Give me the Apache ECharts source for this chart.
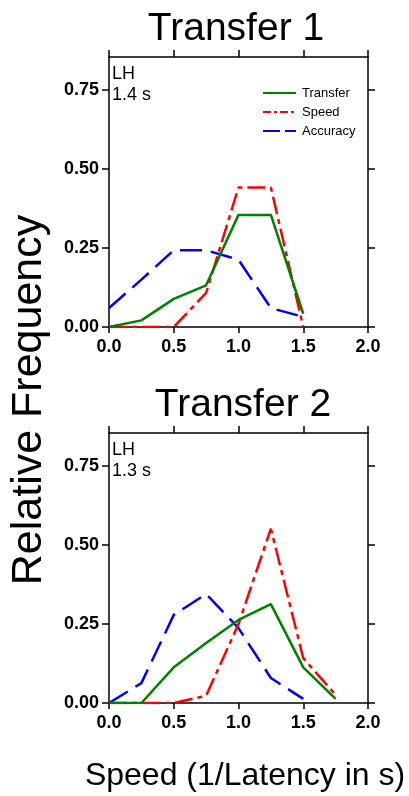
<!DOCTYPE html>
<html><head><meta charset="utf-8">
<script src="https://cdn.jsdelivr.net/npm/echarts@6/dist/echarts.min.js"></script>
<style>html,body{margin:0;padding:0;background:#fff}#c{width:409px;height:796px}</style>
</head><body><div id="c"></div>
<script>
// ---- data ----
const xTicks = [0, 0.5, 1.0, 1.5, 2.0];
const yTicks = [0, 0.25, 0.5, 0.75];
const seriesNames = ['Transfer', 'Speed', 'Accuracy'];
const panelTitles = ['Transfer 1', 'Transfer 2'];
const panelNotes = ['LH\n1.4 s', 'LH\n1.3 s'];

const x1 = [0, 0.25, 0.5, 0.75, 1.0, 1.25, 1.5];
const t1Transfer = [0, 0.021, 0.089, 0.132, 0.355, 0.355, 0.042];
const t1Speed = [0, 0, 0, 0.108, 0.442, 0.442, 0];
const t1Accuracy = [0.06, 0.15, 0.243, 0.243, 0.213, 0.06, 0.032];

const x2 = [0, 0.25, 0.5, 0.75, 1.0, 1.25, 1.5, 1.75];
const t2Transfer = [0, 0, 0.113, 0.19, 0.263, 0.313, 0.113, 0.013];
const t2Speed = [0, 0, 0, 0.023, 0.25, 0.552, 0.142, 0.026];
const t2Accuracy = [0, 0.063, 0.279, 0.345, 0.237, 0.079, 0.013];

// ---- chart ----
const pair = (xs, ys) => ys.map((v, i) => [xs[i], v]);
const colors = { Transfer: '#008000', Speed: '#ff0000', Accuracy: '#0000ff' };
const dashes = { Transfer: 'solid', Speed: [18, 5, 5, 5], Accuracy: [22, 9] };
const FONT = '"Liberation Sans", Arial, sans-serif';
const LW = 2.5;

const grids = [
  { left: 109, width: 259, top: 57, height: 270 },
  { left: 109, width: 259, top: 433, height: 270 }
];
const YMAX = 0.855;

const axisLine = { onZero: false, lineStyle: { color: '#000', width: 1.5 } };
const tickStyle = { color: '#000', width: 1.5 };
const xAxes = [], yAxes = [];
grids.forEach((g, i) => {
  xAxes.push({
    type: 'value', gridIndex: i, min: 0, max: 2, interval: 0.5, position: 'bottom',
    axisLine: axisLine,
    axisTick: { show: true, customValues: xTicks, length: 6, lineStyle: tickStyle },
    axisLabel: { customValues: xTicks, formatter: v => v.toFixed(1), color: '#000', fontWeight: 'bold', fontSize: 18, fontFamily: FONT, margin: 11 },
    splitLine: { show: false }
  });
  xAxes.push({
    type: 'value', gridIndex: i, min: 0, max: 2, interval: 0.5, position: 'top',
    axisLine: axisLine,
    axisTick: { show: true, customValues: xTicks, length: 7, lineStyle: tickStyle },
    axisLabel: { show: false }, splitLine: { show: false }
  });
  yAxes.push({
    type: 'value', gridIndex: i, min: 0, max: YMAX, position: 'left',
    axisLine: Object.assign({ show: true }, axisLine),
    axisTick: { show: true, customValues: yTicks, length: 7, lineStyle: tickStyle },
    axisLabel: { customValues: yTicks, formatter: v => v.toFixed(2), color: '#000', fontWeight: 'bold', fontSize: 18, fontFamily: FONT, margin: 10 },
    splitLine: { show: false }
  });
  yAxes.push({
    type: 'value', gridIndex: i, min: 0, max: YMAX, position: 'right',
    axisLine: Object.assign({ show: true }, axisLine),
    axisTick: { show: true, customValues: yTicks, length: 7, lineStyle: tickStyle },
    axisLabel: { show: false }, splitLine: { show: false }
  });
});

const panels = [
  { x: x1, vals: [t1Transfer, t1Speed, t1Accuracy] },
  { x: x2, vals: [t2Transfer, t2Speed, t2Accuracy] }
];
const series = [];
panels.forEach((p, i) => {
  seriesNames.forEach((n, k) => {
    series.push({
      name: n, type: 'line', xAxisIndex: i * 2, yAxisIndex: i * 2,
      data: pair(p.x, p.vals[k]), showSymbol: false, symbol: 'none',
      lineStyle: { color: colors[n], width: LW, type: dashes[n] },
      itemStyle: { color: colors[n] }, z: 5 - k, animation: false
    });
  });
});

const graphic = [];
graphic.push({ type: 'text', x: 236, y: 29, style: { text: panelTitles[0], font: `39px ${FONT}`, fill: '#000', align: 'center', verticalAlign: 'middle' } });
graphic.push({ type: 'text', x: 243, y: 405, style: { text: panelTitles[1], font: `39px ${FONT}`, fill: '#000', align: 'center', verticalAlign: 'middle' } });
panelNotes.forEach((t, i) => {
  graphic.push({ type: 'text', x: 112, y: (i === 0 ? 64 : 440), style: { text: t, font: `18px ${FONT}`, fill: '#000', lineHeight: 21 } });
});
graphic.push({ type: 'text', x: 29, y: 400, rotation: Math.PI / 2,
  style: { text: 'Relative Frequency', font: `43px ${FONT}`, fill: '#000', align: 'center', verticalAlign: 'middle' } });
graphic.push({ type: 'text', x: 245, y: 776,
  style: { text: 'Speed (1/Latency in s)', font: `32px ${FONT}`, fill: '#000', align: 'center', verticalAlign: 'middle' } });
// legend (top panel)
seriesNames.forEach((n, k) => {
  const y = 93 + k * 19;
  graphic.push({ type: 'line', shape: { x1: 263, y1: y, x2: 296, y2: y },
    style: { stroke: colors[n], lineWidth: 2.2, lineDash: n === 'Transfer' ? null : (n === 'Speed' ? [8, 3, 3, 3] : [17, 5]) } });
  graphic.push({ type: 'text', x: 302, y: y, style: { text: n, font: `13px ${FONT}`, fill: '#000', verticalAlign: 'middle' } });
});

const chart = echarts.init(document.getElementById('c'), null, { renderer: 'canvas' });
chart.setOption({
  animation: false,
  backgroundColor: '#fff',
  grid: grids,
  xAxis: xAxes,
  yAxis: yAxes,
  series: series,
  graphic: graphic
});
</script></body></html>
